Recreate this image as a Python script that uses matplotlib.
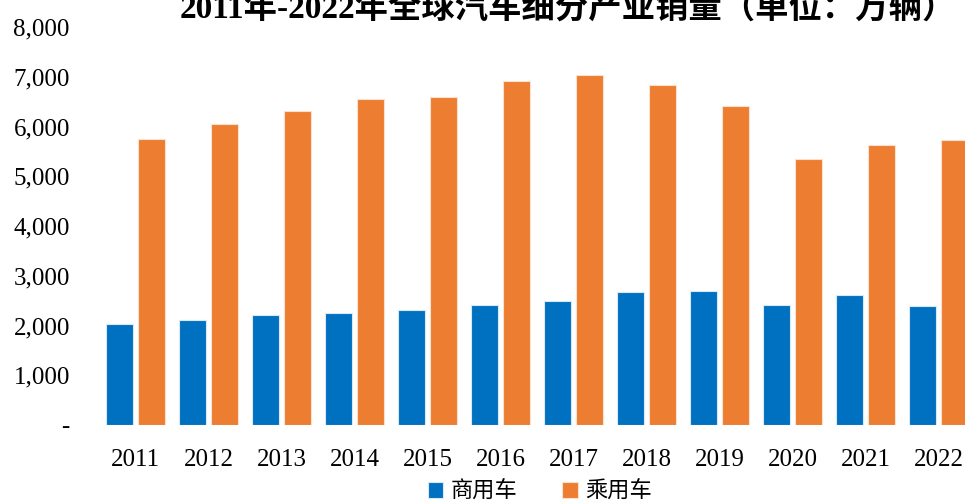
import matplotlib.pyplot as plt
import numpy as np

years = ["2011", "2012", "2013", "2014", "2015", "2016",
         "2017", "2018", "2019", "2020", "2021", "2022"]
commercial = [2035, 2105, 2215, 2260, 2315, 2415, 2495, 2675, 2700, 2415, 2620, 2395]
passenger = [5755, 6060, 6315, 6550, 6600, 6915, 7035, 6835, 6420, 5340, 5620, 5730]
yticks = [0, 1000, 2000, 3000, 4000, 5000, 6000, 7000, 8000]
ytick_labels = ["-", "1,000", "2,000", "3,000", "4,000", "5,000", "6,000", "7,000", "8,000"]

plt.rcParams['font.family'] = ['Liberation Serif', 'Noto Sans CJK SC']

W, H = 965, 503
fig = plt.figure(figsize=(W / 100, H / 100), dpi=100)
ax = fig.add_axes([99 / W, 1 - 425 / H, 876 / W, 398 / H])

x = np.arange(len(years))
w = 0.37
ax.bar(x - 0.225, commercial, w, color="#0070C0", edgecolor="#d9e8f5", linewidth=0.8, label="商用车")
ax.bar(x + 0.22, passenger, w, color="#ED7D31", edgecolor="#fbe0cf", linewidth=0.8, label="乘用车")

ax.set_xlim(-0.5, len(years) - 0.5)
ax.set_ylim(0, 8000)
ax.set_xticks(x)
ax.set_xticklabels(years, fontsize=18)
ax.set_yticks(yticks)
ax.set_yticklabels(ytick_labels, fontsize=18)
ax.tick_params(axis="x", length=0, pad=17)
ax.tick_params(axis="y", length=0, pad=21)
for s in ax.spines.values():
    s.set_visible(False)

# title is partly cut at the top edge, as in the source image
fig.text(568 / W, 1 - 19 / H, "2011年-2022年全球汽车细分产业销量（单位：万辆）",
         ha="center", va="baseline", fontsize=24, fontweight="bold")

leg = fig.legend(loc="center", bbox_to_anchor=(540 / W, 12 / H), ncol=2, frameon=False,
                 prop={"family": ["Noto Sans CJK SC"], "size": 16},
                 handlelength=0.7, handleheight=0.7, handletextpad=0.35, columnspacing=2.0)

fig.savefig("out.png", dpi=100)
